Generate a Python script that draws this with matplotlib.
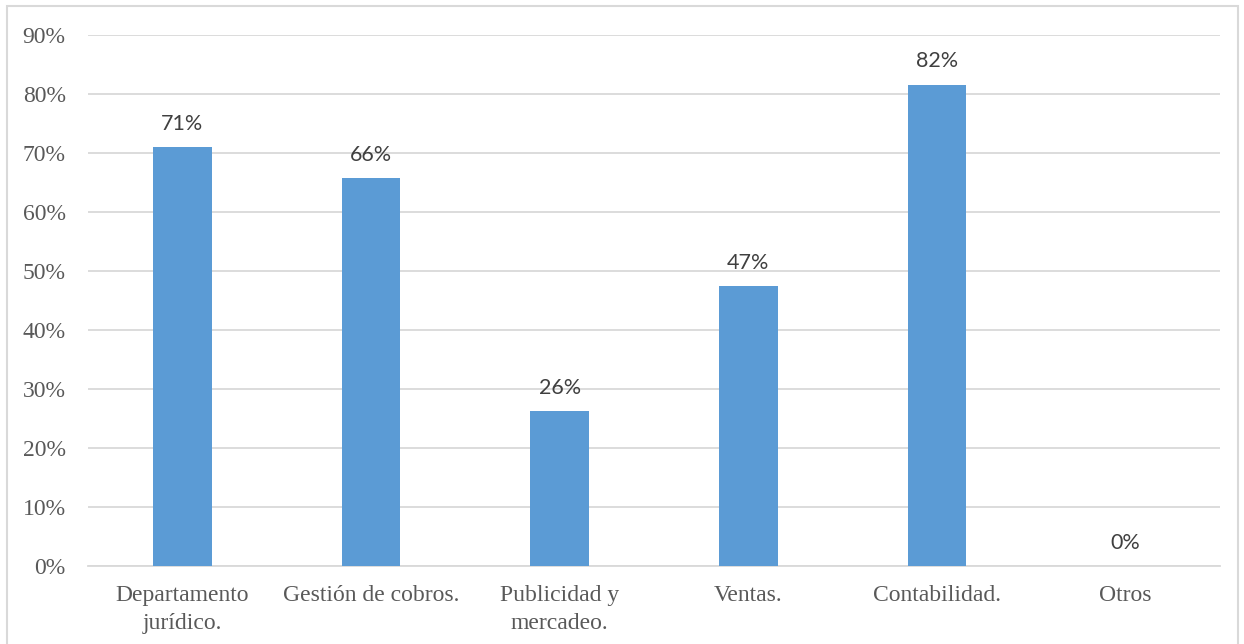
import matplotlib
matplotlib.use("Agg")
import matplotlib.pyplot as plt
from matplotlib.patches import Rectangle
from matplotlib.ticker import FuncFormatter

# ── Data ───────────────────────────────────────────────────────────────
categories = ["Departamento\njurídico.", "Gestión de cobros.", "Publicidad y\nmercadeo.",
              "Ventas.", "Contabilidad.", "Otros"]
shares = [0.710, 0.658, 0.263, 0.474, 0.816, 0.0]
y_ticks = [0.0, 0.1, 0.2, 0.3, 0.4, 0.5, 0.6, 0.7, 0.8, 0.9]

BAR_COLOR = "#5B9BD5"
GRID_COLOR = "#D9D9D9"
TEXT_COLOR = "#595959"

fig = plt.figure(figsize=(12.44, 6.44), dpi=100)
ax = fig.add_axes([0.0707, 0.1211, 0.9100, 0.8246])

x = range(len(categories))
ax.bar(x, shares, width=0.31, color=BAR_COLOR, zorder=3)

for xi, v in zip(x, shares):
    ax.annotate(f"{v:.0%}", (xi, v), xytext=(0, 9.5), textcoords="offset points",
                ha="center", va="bottom", fontsize=15.5, color="#404040",
                family=["Lato", "DejaVu Sans"])

ax.set_xlim(-0.5, len(categories) - 0.5)
ax.set_ylim(0, 0.9)
ax.set_yticks(y_ticks)
ax.yaxis.set_major_formatter(FuncFormatter(lambda v, _: f"{v:.0%}"))
ax.set_xticks(list(x))
ax.set_xticklabels(categories, linespacing=1.45)

ax.grid(axis="y", color=GRID_COLOR, linewidth=1.3, zorder=0)
ax.tick_params(axis="both", length=0, labelsize=17, labelcolor=TEXT_COLOR,
               labelfontfamily="Liberation Serif")
ax.tick_params(axis="y", pad=16)
ax.tick_params(axis="x", pad=13.5)
for side in ["top", "right", "left"]:
    ax.spines[side].set_visible(False)
ax.spines["bottom"].set_color(GRID_COLOR)
ax.spines["bottom"].set_linewidth(1.3)

# Chart-area frame
fig.patches.append(Rectangle((7 / 1244, -0.01), 1231 / 1244, 1 - 6 / 644 + 0.01,
                             transform=fig.transFigure, fill=False,
                             edgecolor="#D9D9D9", linewidth=1.5))

fig.savefig("out.png", dpi=100)
